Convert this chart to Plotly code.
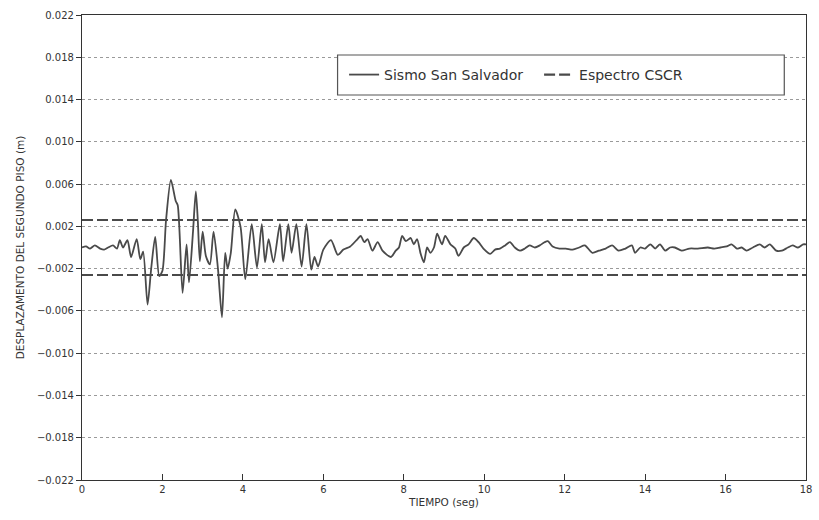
import plotly.graph_objects as go

# ---- data ----
tiempo = [0.00, 0.10, 0.20, 0.32, 0.45, 0.55, 0.65, 0.77, 0.87, 0.94, 1.02, 1.13, 1.22, 1.36, 1.45,
          1.52, 1.63, 1.72, 1.82, 1.92, 2.00, 2.09, 2.21, 2.33, 2.38, 2.50, 2.60, 2.66, 2.76, 2.83,
          2.88, 2.93, 3.00, 3.08, 3.18, 3.27, 3.38, 3.48, 3.56, 3.62, 3.70, 3.81, 3.94, 4.06, 4.22,
          4.35, 4.47, 4.55, 4.64, 4.76, 4.92, 5.00, 5.13, 5.21, 5.33, 5.46, 5.58, 5.70, 5.78, 5.87,
          6.00, 6.19, 6.36, 6.50, 6.67, 6.85, 6.93, 7.02, 7.10, 7.22, 7.35, 7.47, 7.68, 7.80, 7.88,
          7.96, 8.05, 8.17, 8.25, 8.33, 8.42, 8.50, 8.58, 8.66, 8.75, 8.83, 8.95, 9.03, 9.16, 9.28,
          9.36, 9.49, 9.61, 9.74, 9.86, 9.98, 10.15, 10.27, 10.39, 10.52, 10.64, 10.76, 10.89, 11.01,
          11.13, 11.26, 11.38, 11.50, 11.58, 11.70, 11.87, 12.03, 12.20, 12.36, 12.50, 12.69, 12.85,
          13.02, 13.18, 13.34, 13.51, 13.67, 13.75, 13.88, 14.00, 14.13, 14.25, 14.37, 14.50, 14.62,
          14.74, 14.91, 15.10, 15.31, 15.56, 15.72, 15.87, 16.03, 16.15, 16.28, 16.40, 16.52, 16.68,
          16.85, 16.97, 17.10, 17.26, 17.40, 17.55, 17.67, 17.80, 17.93, 18.00]

sismo_san_salvador = [0.0000, 0.0001, -0.0001, 0.0002, -0.0001, -0.0002, 0.0000, 0.0002, -0.0001, 0.0007,
                      0.0000, 0.0007, -0.0009, 0.0008, -0.0011, -0.0004, -0.0054, -0.0020, 0.0010, -0.0027,
                      -0.0022, 0.0026, 0.0064, 0.0044, 0.0040, -0.0043, 0.0003, -0.0033, 0.0015, 0.0053,
                      0.0025, -0.0013, 0.0015, -0.0008, -0.0016, 0.0015, -0.0020, -0.0066, -0.0005, -0.0020,
                      -0.0005, 0.0036, 0.0020, -0.0030, 0.0022, -0.0019, 0.0022, -0.0014, 0.0008, -0.0014,
                      0.0022, -0.0013, 0.0022, -0.0005, 0.0022, -0.0018, 0.0022, -0.0021, -0.0009, -0.0018,
                      -0.0002, 0.0007, -0.0007, -0.0002, 0.0001, 0.0008, 0.0011, 0.0005, 0.0008, -0.0003,
                      0.0005, -0.0003, -0.0009, -0.0003, 0.0000, 0.0011, 0.0006, 0.0009, 0.0003, 0.0008,
                      -0.0006, -0.0014, 0.0000, -0.0005, 0.0000, 0.0013, 0.0003, 0.0011, 0.0003, -0.0001,
                      -0.0008, 0.0000, 0.0003, 0.0009, 0.0005, -0.0001, -0.0006, -0.0002, -0.0001, 0.0002,
                      0.0005, 0.0000, -0.0003, -0.0001, 0.0002, 0.0000, 0.0002, 0.0005, 0.0006, 0.0001,
                      -0.0001, -0.0001, -0.0002, 0.0000, 0.0002, -0.0005, -0.0003, -0.0001, 0.0002, -0.0003,
                      -0.0001, 0.0002, -0.0005, 0.0000, -0.0001, 0.0003, -0.0001, 0.0003, -0.0003, 0.0000,
                      0.0000, -0.0003, -0.0001, -0.0001, 0.0000, -0.0001, 0.0000, 0.0001, 0.0003, -0.0001,
                      0.0000, -0.0003, 0.0000, 0.0003, 0.0000, 0.0003, -0.0003, -0.0003, 0.0000, 0.0002,
                      0.0000, 0.0003, 0.0003]

espectro_t = [0, 18]
espectro_sup = [0.0026, 0.0026]
espectro_inf = [-0.0026, -0.0026]

y_ticks = [0.022, 0.018, 0.014, 0.010, 0.006, 0.002, -0.002, -0.006, -0.010, -0.014, -0.018, -0.022]
y_ticktext = ["0.022", "0.018", "0.014", "0.010", "0.006", "0.002", "−0.002", "−0.006", "−0.010",
              "−0.014", "−0.018", "−0.022"]
x_ticks = [0, 2, 4, 6, 8, 10, 12, 14, 16, 18]

LINE = "#4a4a4a"
AX = "#333333"
FONT = "DejaVu Sans"

fig = go.Figure()
fig.add_trace(go.Scatter(x=tiempo, y=sismo_san_salvador, mode="lines", name="Sismo San Salvador",
                         line=dict(color=LINE, width=1.8, shape="spline", smoothing=0.7)))
fig.add_trace(go.Scatter(x=espectro_t, y=espectro_sup, mode="lines", name="Espectro CSCR",
                         line=dict(color=LINE, width=2.2, dash="11px,4px")))
fig.add_trace(go.Scatter(x=espectro_t, y=espectro_inf, mode="lines", name="Espectro CSCR",
                         showlegend=False, line=dict(color=LINE, width=2.2, dash="11px,4px")))

# legend frame (drawn as a shape so it can be wider than the entries)
fig.add_shape(type="rect", xref="paper", yref="paper", x0=0.353, x1=0.970, y0=0.828, y1=0.914,
              line=dict(color="#555555", width=1.2), fillcolor="white", layer="above")

fig.update_layout(
    width=819, height=520,
    margin=dict(l=82, r=7, t=15, b=40),
    paper_bgcolor="white", plot_bgcolor="white",
    font=dict(family=FONT, color=AX),
    showlegend=True,
    legend=dict(orientation="h", x=0.362, y=0.871, xanchor="left", yanchor="middle",
                borderwidth=0, bgcolor="rgba(0,0,0,0)",
                font=dict(size=14, family=FONT, color="#333"),
                entrywidth=150, itemwidth=30, tracegroupgap=0),
)
fig.update_xaxes(range=[0, 18], tickvals=x_ticks, ticks="inside", ticklen=6, tickcolor=AX,
                 showline=True, linecolor=AX, linewidth=1.2, mirror=True, showgrid=False,
                 zeroline=False, tickfont=dict(size=10, color=AX),
                 title=dict(text="TIEMPO (seg)", font=dict(size=10.5, color=AX), standoff=4))
fig.update_yaxes(range=[-0.022, 0.022], tickvals=y_ticks, ticktext=y_ticktext, ticks="outside",
                 ticklen=5, tickcolor=AX, showline=True, linecolor=AX, linewidth=1.2, mirror=True,
                 showgrid=True, gridcolor="#9a9a9a", griddash="dot", gridwidth=1, zeroline=False,
                 tickfont=dict(size=10, color=AX),
                 title=dict(text="DESPLAZAMENTO DEL SEGUNDO PISO (m)", font=dict(size=10.5, color=AX),
                            standoff=10))

fig.write_html("out.html")
